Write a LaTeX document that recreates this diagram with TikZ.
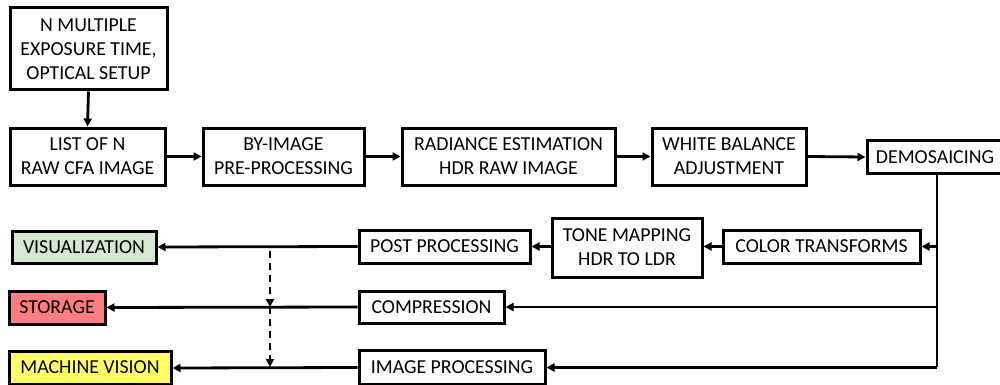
\documentclass[tikz,border=0pt]{standalone}
\usepackage{fontspec}
\setmainfont{Carlito}
\usetikzlibrary{arrows.meta,calc}
\definecolor{visgreen}{HTML}{D5E8D4}
\definecolor{storred}{HTML}{FF7C80}
\definecolor{mvyellow}{HTML}{FFFF66}
\tikzset{
  box/.style={draw=black, line width=3pt, fill=white, inner sep=0pt, align=center,
    font=\fontsize{19.8}{24}\selectfont, text=black},
  conn/.style={line width=2.8pt, -{Triangle[length=8pt,width=8pt]}},
  plain/.style={line width=2.8pt},
  dconn/.style={line width=2.8pt, dash pattern=on 7pt off 5pt, -{Triangle[length=8pt,width=8pt]}}
}
\begin{document}
\begin{tikzpicture}[x=1pt,y=-1pt]
\useasboundingbox (0,0) rectangle (1000,385);
\node[box, minimum width=157pt, minimum height=82pt] (b1) at (88.5,49) {N MULTIPLE\\EXPOSURE TIME,\\OPTICAL SETUP};
\node[box, minimum width=155pt, minimum height=57pt] (b2) at (87.5,156.5) {LIST OF N\\RAW CFA IMAGE};
\node[box, minimum width=161pt, minimum height=57pt] (b3) at (283.5,156.5) {BY-IMAGE\\PRE-PROCESSING};
\node[box, minimum width=213pt, minimum height=57pt] (b4) at (508.5,156.5) {RADIANCE ESTIMATION\\HDR RAW IMAGE};
\node[box, minimum width=154pt, minimum height=57pt] (b5) at (729,156.5) {WHITE BALANCE\\ADJUSTMENT};
\node[box, minimum width=136pt, minimum height=33pt] (b6) at (935,157) {DEMOSAICING};
\node[box, minimum width=197pt, minimum height=33pt] (ct) at (821.5,246.5) {COLOR TRANSFORMS};
\node[box, minimum width=150pt, minimum height=59pt] (tm) at (627,247.5) {TONE MAPPING\\HDR TO LDR};
\node[box, minimum width=171pt, minimum height=33pt] (pp) at (444.5,246.5) {POST PROCESSING};
\node[box, minimum width=145pt, minimum height=32pt] (comp) at (431.5,307) {COMPRESSION};
\node[box, minimum width=186pt, minimum height=34pt] (ip) at (452,367) {IMAGE PROCESSING};
\node[box, fill=visgreen, minimum width=144pt, minimum height=32pt] (vis) at (84,247) {VISUALIZATION};
\node[box, fill=storred, minimum width=96pt, minimum height=33pt] (sto) at (57,307.5) {STORAGE};
\node[box, fill=mvyellow, minimum width=162pt, minimum height=33pt] (mv) at (90,367.5) {MACHINE VISION};
\coordinate (t1) at (937,246.5);
\coordinate (t2) at (937,307);
\coordinate (t3) at (937,367);
\coordinate (d1) at (270,251);
\coordinate (d2) at (270,307);
\coordinate (d3) at (270,367);
\draw[conn] (b1.south) -- (b2.north);
\draw[conn] (b2.east) -- (b3.west);
\draw[conn] (b3.east) -- (b4.west);
\draw[conn] (b4.east) -- (b5.west);
\draw[conn] (b5.east) -- (b6.west);
\draw[plain] (b6.south -| t1) -- (t3);
\draw[conn] (t1) -- (ct.east);
\draw[conn] (ct.west) -- (ct.west -| tm.east);
\draw[conn] (tm.west |- pp.east) -- (pp.east);
\draw[conn] (pp.west) -- (vis.east);
\draw[conn] (t2) -- (comp.east);
\draw[conn] (comp.west) -- (sto.east);
\draw[conn] ([yshift=-0.5pt]t3) -- ([yshift=-0.5pt]ip.east);
\draw[conn] ([yshift=-0.5pt]ip.west) -- ([yshift=-0.5pt]mv.east);
\draw[dconn] (d1) -- (d2);
\draw[dconn] (d2) -- (d3);
\end{tikzpicture}
\end{document}
